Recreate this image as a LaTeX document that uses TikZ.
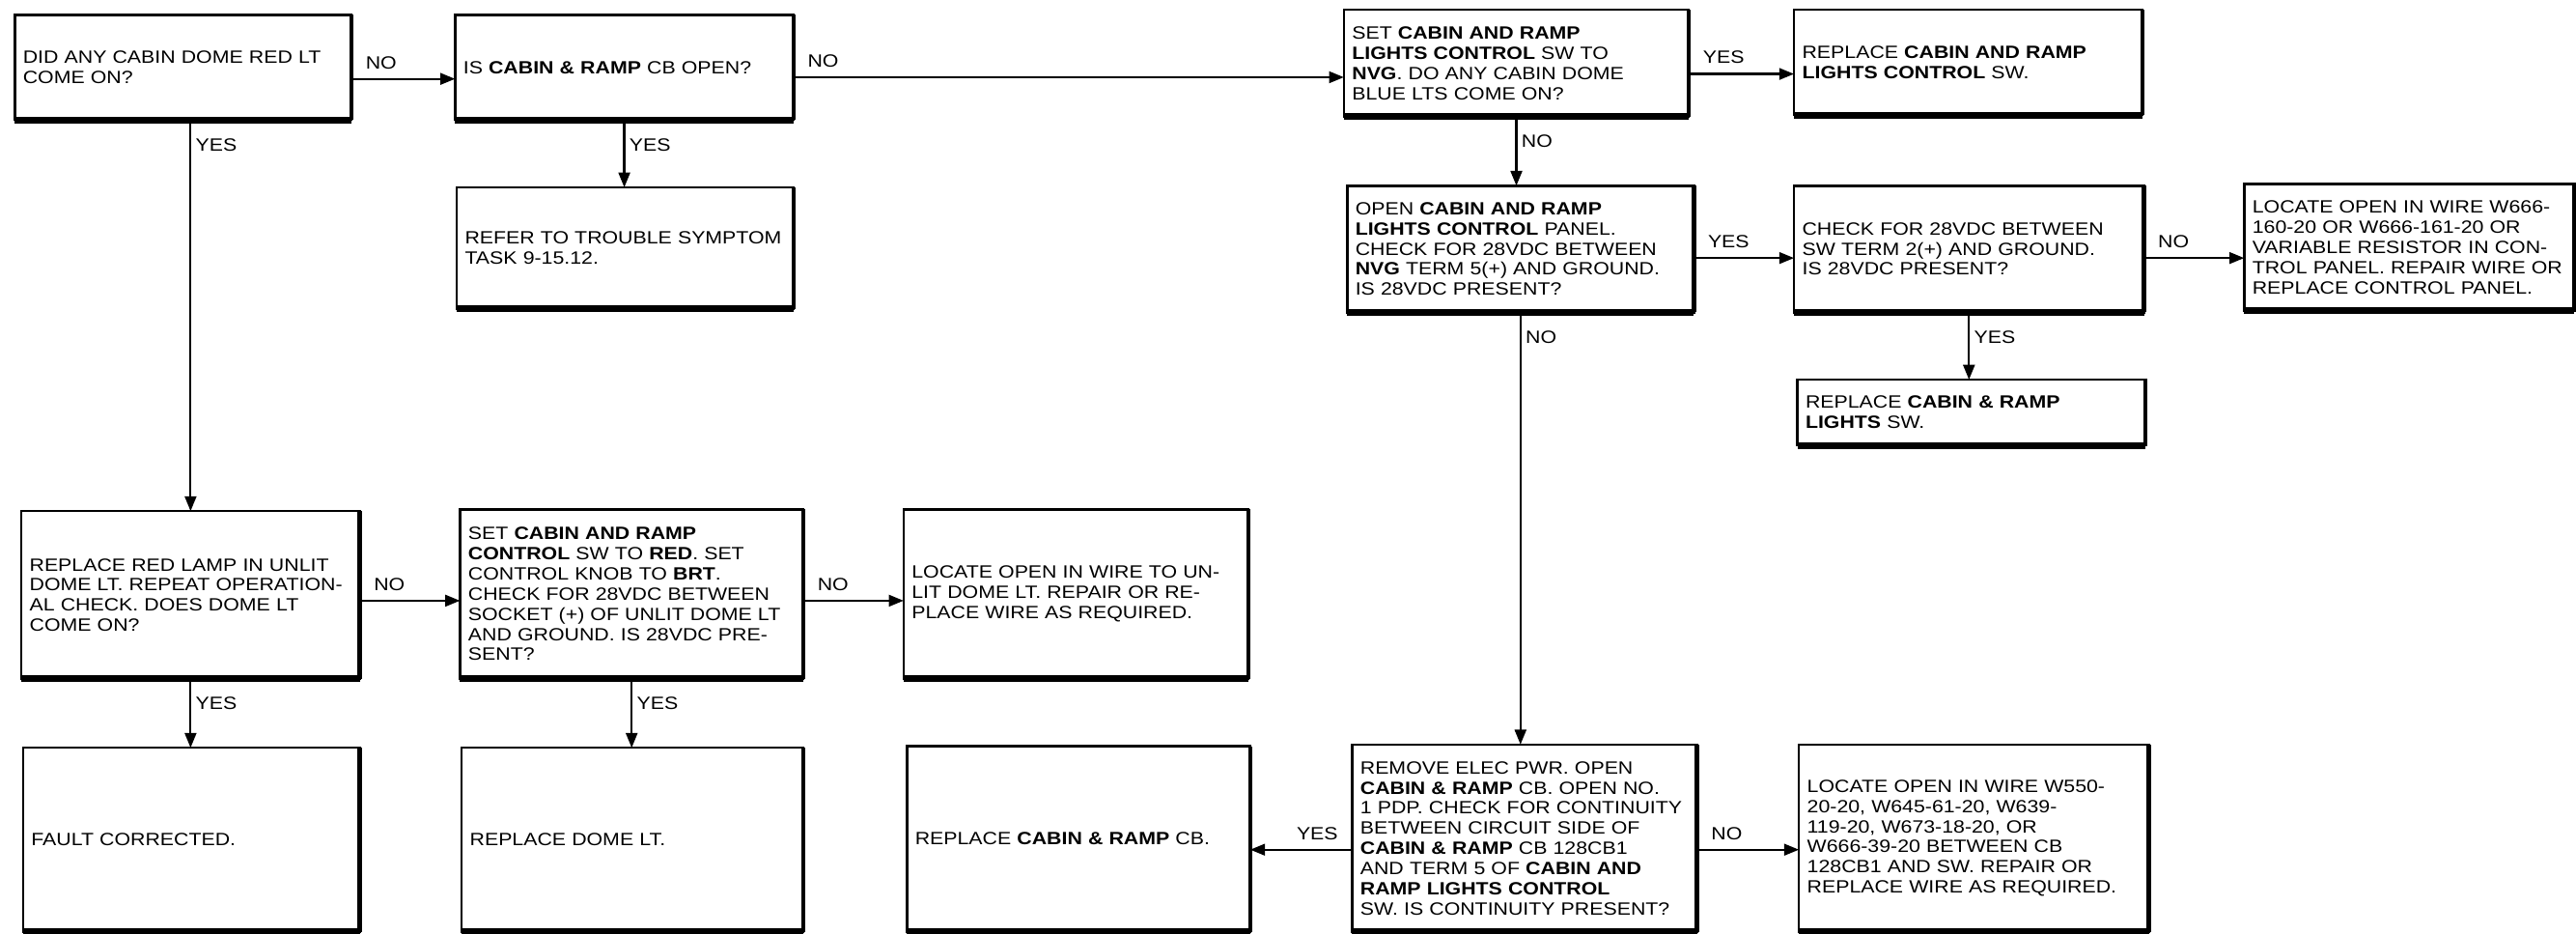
\documentclass[tikz,border=0pt]{standalone}
\usepackage{fontspec}
\setmainfont{Liberation Sans}[FakeStretch=1.16]
\usetikzlibrary{arrows.meta,calc}
\newcommand\fs{\fontsize{10.8pt}{12.25pt}\selectfont}
\begin{document}
\begin{tikzpicture}[x=1pt,y=-1pt,
  fb/.style n args={3}{draw, line width=1.5pt, rectangle, outer sep=0pt,
     inner xsep=5pt, inner ysep=0pt, minimum width=#1, minimum height=#2,
     text width=#3, align=left, font=\fs},
  arr/.style={line width=1.3pt, -{Triangle[length=9pt,width=7pt]}},
  lblh/.style={anchor=south west, inner sep=0pt, xshift=8pt, yshift=5.5pt, font=\fs},
  lblhl/.style={anchor=south east, inner sep=0pt, xshift=-8pt, yshift=5.5pt, font=\fs},
  lblv/.style={anchor=north west, inner sep=0pt, xshift=2.5pt, yshift=-10.5pt, font=\fs},
  heavyb/.style={line width=4pt},
  heavyr/.style={line width=2.6pt}]
\useasboundingbox (0,0) rectangle (1568,568);
\fill[white] (0,0) rectangle (1568,568);

% row 1
\node[fb={205pt}{64pt}{195pt}] (A) at (111.5,41) {DID ANY CABIN DOME RED LT\\COME ON?};
\node[fb={206pt}{64pt}{196pt}] (B) at (380,41) {IS \textbf{CABIN \& RAMP} CB OPEN?};
\node[fb={210pt}{65pt}{200pt}] (C) at (923,38.5) {SET \textbf{CABIN AND RAMP}\\\textbf{LIGHTS CONTROL} SW TO\\\textbf{NVG}. DO ANY CABIN DOME\\BLUE LTS COME ON?};
\node[fb={212pt}{64pt}{202pt}] (D) at (1198,38) {REPLACE \textbf{CABIN AND RAMP}\\\textbf{LIGHTS CONTROL} SW.};
% row 2
\node[fb={205pt}{74pt}{195pt}] (Q) at (380.5,151) {REFER TO TROUBLE SYMPTOM\\TASK 9-15.12.};
\node[fb={211pt}{77pt}{201pt}] (E) at (925.5,151.5) {OPEN \textbf{CABIN AND RAMP}\\\textbf{LIGHTS CONTROL} PANEL.\\CHECK FOR 28VDC BETWEEN\\\textbf{NVG} TERM 5(+) AND GROUND.\\IS 28VDC PRESENT?};
\node[fb={213pt}{77pt}{203pt}] (F) at (1198.5,151.5) {CHECK FOR 28VDC BETWEEN\\SW TERM 2(+) AND GROUND.\\IS 28VDC PRESENT?};
\node[fb={199pt}{77pt}{191pt}] (H) at (1466.5,150.5) {LOCATE OPEN IN WIRE W666-\\160-20 OR W666-161-20 OR\\VARIABLE RESISTOR IN CON-\\TROL PANEL. REPAIR WIRE OR\\REPLACE CONTROL PANEL.};
\node[fb={212pt}{40pt}{202pt}] (G) at (1200,251) {REPLACE \textbf{CABIN \& RAMP}\\\textbf{LIGHTS} SW.};
% row 3
\node[fb={206pt}{102pt}{196pt}] (I) at (116,362) {REPLACE RED LAMP IN UNLIT\\DOME LT. REPEAT OPERATION-\\AL CHECK. DOES DOME LT\\COME ON?};
\node[fb={209pt}{103pt}{199pt}] (J) at (384.5,361.5) {SET \textbf{CABIN AND RAMP}\\\textbf{CONTROL} SW TO \textbf{RED}. SET\\CONTROL KNOB TO \textbf{BRT}.\\CHECK FOR 28VDC BETWEEN\\SOCKET (+) OF UNLIT DOME LT\\AND GROUND. IS 28VDC PRE-\\SENT?};
\node[fb={210pt}{103pt}{200pt}] (K) at (655,361.5) {LOCATE OPEN IN WIRE TO UN-\\LIT DOME LT. REPAIR OR RE-\\PLACE WIRE AS REQUIRED.};
% row 4
\node[fb={205pt}{112pt}{195pt}] (L) at (116.5,511) {FAULT CORRECTED.};
\node[fb={208pt}{112pt}{198pt}] (M) at (385,511) {REPLACE DOME LT.};
\node[fb={209pt}{113pt}{199pt}] (N) at (656.5,510.5) {REPLACE \textbf{CABIN \& RAMP} CB.};
\node[fb={210pt}{114pt}{200pt}] (O) at (928,510) {REMOVE ELEC PWR. OPEN\\\textbf{CABIN \& RAMP} CB. OPEN NO.\\1 PDP. CHECK FOR CONTINUITY\\BETWEEN CIRCUIT SIDE OF\\\textbf{CABIN \& RAMP} CB 128CB1\\AND TERM 5 OF \textbf{CABIN AND}\\\textbf{RAMP LIGHTS CONTROL}\\SW. IS CONTINUITY PRESENT?};
\node[fb={213pt}{114pt}{203pt}] (P) at (1201.5,510) {LOCATE OPEN IN WIRE W550-\\20-20, W645-61-20, W639-\\119-20, W673-18-20, OR\\W666-39-20 BETWEEN CB\\128CB1 AND SW. REPAIR OR\\REPLACE WIRE AS REQUIRED.};

% heavy bottom and right edges
\foreach \n in {A,B,C,D,Q,E,F,H,G,I,J,K,L,M,N,O,P}{
  \draw[heavyb] (\n.south west) -- (\n.south east);
  \draw[heavyr] (\n.south east) -- (\n.north east);
}

% connectors
\draw[arr] ([yshift=-7pt]A.east) -- ([yshift=-7pt]A.east -| B.west) node[pos=0,lblh]{NO};
\draw[arr] ([yshift=-6pt]B.east) -- ([yshift=-6pt]B.east -| C.west) node[pos=0,lblh]{NO};
\draw[arr] ([yshift=-6.5pt]C.east) -- ([yshift=-6.5pt]C.east -| D.west) node[pos=0,lblh]{YES};
\draw[arr] (C.south) -- (C.south |- E.north) node[pos=0,lblv]{NO};
\draw[arr] (B.south) -- (B.south |- Q.north) node[pos=0,lblv]{YES};
\draw[arr] (A.south -| I.north) -- (I.north) node[pos=0,lblv]{YES};
\draw[arr] ([yshift=-5.5pt]E.east) -- ([yshift=-5.5pt]E.east -| F.west) node[pos=0,lblh]{YES};
\draw[arr] ([yshift=-5.5pt]F.east) -- ([yshift=-5.5pt]F.east -| H.west) node[pos=0,lblh]{NO};
\draw[arr] (F.south) -- (F.south |- G.north) node[pos=0,lblv]{YES};
\draw[arr] (E.south) -- (E.south |- O.north) node[pos=0,lblv]{NO};
\draw[arr] ([yshift=-3.5pt]I.east) -- ([yshift=-3.5pt]I.east -| J.west) node[pos=0,lblh]{NO};
\draw[arr] ([yshift=-4pt]J.east) -- ([yshift=-4pt]J.east -| K.west) node[pos=0,lblh]{NO};
\draw[arr] (I.south) -- (I.south |- L.north) node[pos=0,lblv]{YES};
\draw[arr] (J.south) -- (J.south |- M.north) node[pos=0,lblv]{YES};
\draw[arr] ([yshift=-7pt]O.west) -- ([yshift=-7pt]O.west -| N.east) node[pos=0,lblhl]{YES};
\draw[arr] ([yshift=-7pt]O.east) -- ([yshift=-7pt]O.east -| P.west) node[pos=0,lblh]{NO};
\end{tikzpicture}
\end{document}
